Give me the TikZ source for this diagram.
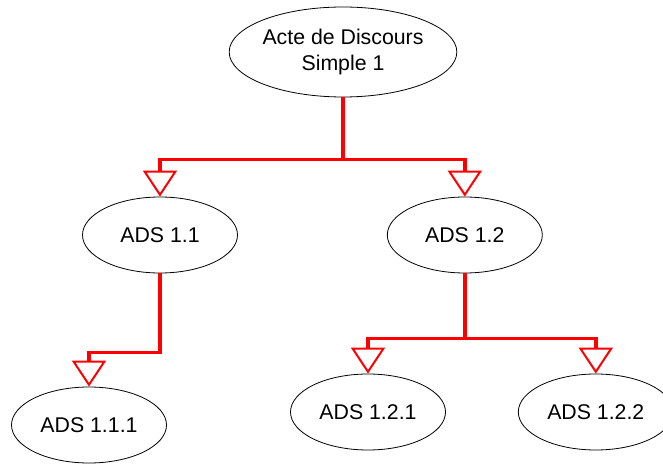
\documentclass[tikz,border=0pt]{standalone}
\usepackage{fontspec}
\setmainfont{Liberation Sans}
\usetikzlibrary{positioning,arrows.meta,shapes.geometric}
\definecolor{colorlink}    {RGB}{255,  0,  0}
\definecolor{colortext}    {RGB}{  0,  0,  0}

\begin{document}
\begin{tikzpicture}[
    x=1pt, y=1pt,
    font={\fontsize{21.3}{26}\selectfont},
    base/.style={ellipse,draw=colortext,text=colortext,line width=0.8pt,inner sep=0pt,align=center},
    ads/.style={base,minimum width=155pt,minimum height=76pt},
    link/.style={draw=colorlink,line width=3.5pt,-{Triangle[open,length=26pt,width=34pt,line width=2pt]}},
]
    \useasboundingbox (0,0) rectangle (663,463);

    \node[base,minimum width=183pt,minimum height=90pt] (acte) at (343,411) {Acte de Discours\\Simple 1};

    \node[ads] (ads11) at (160,228) {ADS 1.1};
    \node[ads,right=149pt of ads11] (ads12) {ADS 1.2};

    \draw[link](acte.south) -- ++(0,-62) -| (ads11.north);
    \draw[link](acte.south) -- ++(0,-62) -| (ads12.north);

    \node[ads] (ads111) at (89,38) {ADS 1.1.1};

    \draw[link](ads11.south) -- ++(0,-79) -| (ads111.north);

    \node[ads] (ads121) at (368,51) {ADS 1.2.1};
    \node[ads,right=72pt of ads121] (ads122) {ADS 1.2.2};

    \draw[link](ads12.south) -- ++(0,-65) -| (ads121.north);
    \draw[link](ads12.south) -- ++(0,-65) -| (ads122.north);

\end{tikzpicture}
\end{document}
